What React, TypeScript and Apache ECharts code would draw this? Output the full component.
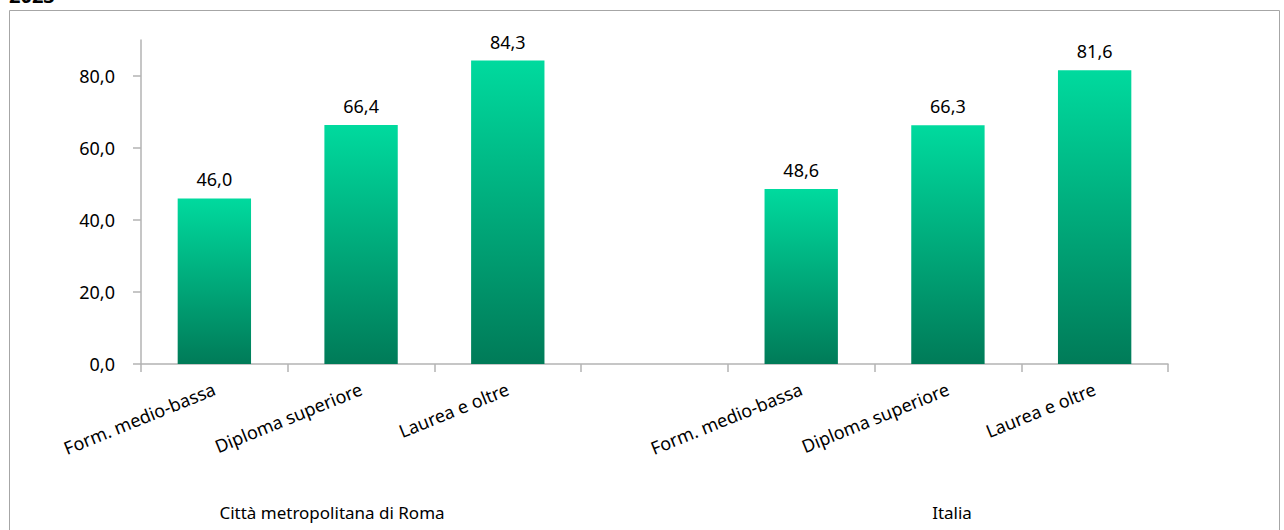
import React, { useEffect, useRef } from "react";
import * as echarts from "echarts";

const categories = [
  "Form. medio-bassa",
  "Diploma superiore",
  "Laurea e oltre",
  "",
  "Form. medio-bassa",
  "Diploma superiore",
  "Laurea e oltre",
];
const values: (number | null)[] = [46.0, 66.4, 84.3, null, 48.6, 66.3, 81.6];
const yTicks = [0, 20, 40, 60, 80];
const groupLabels = ["Città metropolitana di Roma", "Italia"];
const titleText = "2023";

const FONT = "'Noto Sans', sans-serif";
const fmt = (v: number) => v.toFixed(1).replace(".", ",");

export default function App() {
  const ref = useRef<HTMLDivElement>(null);
  useEffect(() => {
    if (!ref.current) return;
    const chart = echarts.init(ref.current, undefined, { renderer: "svg" });
    chart.setOption({
      animation: false,
      backgroundColor: "#ffffff",
      textStyle: { fontFamily: FONT },
      grid: { left: 141, right: 116, top: 40, bottom: 166, containLabel: false },
      graphic: [
        {
          type: "rect",
          shape: { x: 9.5, y: 10.5, width: 1270, height: 540 },
          style: { fill: "none", stroke: "#a6a6a6", lineWidth: 1 },
          z: -1,
        },
        {
          type: "text",
          x: 9,
          y: -15,
          style: { text: titleText, fontFamily: FONT, fontWeight: "bold", fontSize: 20, fill: "#000" },
        },
        {
          type: "text",
          x: 332,
          y: 512,
          style: { text: groupLabels[0], fontFamily: FONT, fontSize: 17, fill: "#000", align: "center", verticalAlign: "middle" },
        },
        {
          type: "text",
          x: 952,
          y: 512,
          style: { text: groupLabels[1], fontFamily: FONT, fontSize: 17, fill: "#000", align: "center", verticalAlign: "middle" },
        },
      ],
      xAxis: {
        type: "category",
        data: categories,
        boundaryGap: true,
        axisLine: { lineStyle: { color: "#b3b3b3", width: 1.5 } },
        axisTick: { show: true, length: 8, alignWithLabel: false, lineStyle: { color: "#b3b3b3", width: 1.5 } },
        axisLabel: {
          interval: 0,
          rotate: 22,
          margin: 24,
          fontSize: 18,
          color: "#000",
          fontFamily: FONT,
        },
        splitLine: { show: false },
      },
      yAxis: {
        type: "value",
        min: 0,
        max: 90,
        interval: 10,
        axisLine: { show: true, lineStyle: { color: "#b3b3b3", width: 1.5 } },
        axisTick: { show: true, length: 8, customValues: yTicks, lineStyle: { color: "#b3b3b3", width: 1.5 } },
        axisLabel: {
          customValues: yTicks,
          formatter: (v: number) => fmt(v),
          fontSize: 18,
          color: "#000",
          margin: 26,
          fontFamily: FONT,
        },
        splitLine: { show: false },
      },
      series: [
        {
          type: "bar",
          data: values,
          barWidth: "50%",
          itemStyle: {
            color: new echarts.graphic.LinearGradient(0, 0, 0, 1, [
              { offset: 0, color: "#00da9e" },
              { offset: 1, color: "#007b58" },
            ]),
          },
          label: {
            show: true,
            position: "top",
            distance: 10,
            fontSize: 18,
            color: "#000",
            fontFamily: FONT,
            formatter: (p: any) => fmt(p.value),
          },
        },
      ],
    });
    return () => chart.dispose();
  }, []);
  return (
    <div
      ref={ref}
      style={{ position: "fixed", left: 0, top: 0, width: 1284, height: 530 }}
    />
  );
}
